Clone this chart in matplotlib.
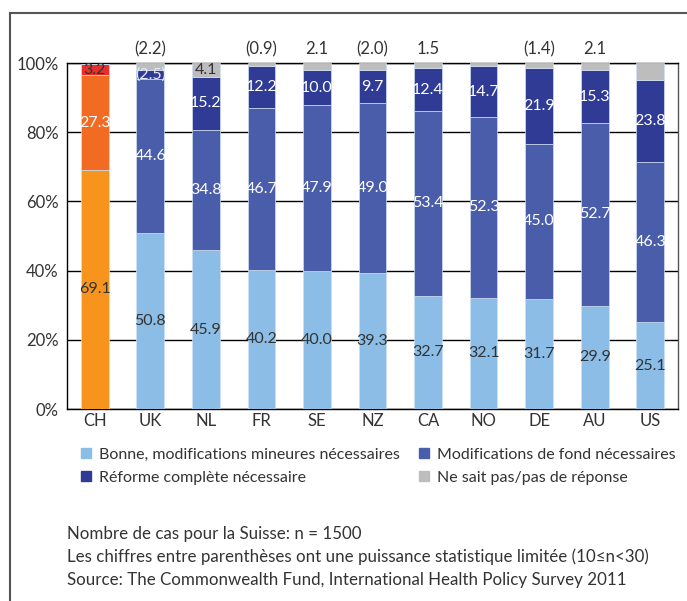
import matplotlib
matplotlib.use("Agg")
import matplotlib.pyplot as plt
import matplotlib.transforms as mtransforms
from matplotlib.lines import Line2D
import numpy as np

plt.rcParams['font.family'] = ['Lato', 'DejaVu Sans']

countries = ["CH", "UK", "NL", "FR", "SE", "NZ", "CA", "NO", "DE", "AU", "US"]
minor   = [69.1, 50.8, 45.9, 40.2, 40.0, 39.3, 32.7, 32.1, 31.7, 29.9, 25.1]
fond    = [27.3, 44.6, 34.8, 46.7, 47.9, 49.0, 53.4, 52.3, 45.0, 52.7, 46.3]
reforme = [3.2, 2.5, 15.2, 12.2, 10.0, 9.7, 12.4, 14.7, 21.9, 15.3, 23.8]
nsp     = [0.0, 2.2, 4.1, 0.9, 2.1, 2.0, 1.5, 0.9, 1.4, 2.1, 4.8]
# where the "don't know" value is written: above the bar, inside it, or not at all
nsp_label = [None, "above", "inside", "above", "above", "above", "above", None, "above", "above", None]
# values based on few cases are shown in parentheses
nsp_limited = [False, True, False, True, False, True, False, False, True, False, False]
reforme_limited = [False, True] + [False] * 9

series_names = ["Bonne, modifications mineures nécessaires",
                "Modifications de fond nécessaires",
                "Réforme complète nécessaire",
                "Ne sait pas/pas de réponse"]
yticks = [0, 20, 40, 60, 80, 100]
notes = ["Nombre de cas pour la Suisse: n = 1500",
         "Les chiffres entre parenthèses ont une puissance statistique limitée (10≤n<30)",
         "Source: The Commonwealth Fund, International Health Policy Survey 2011"]

c_light, c_mid, c_dark, c_grey = "#8bbde6", "#4a5daa", "#2f3b94", "#bdbdbd"
ch_colors = ["#f7941d", "#f26b23", "#e8302a"]
dark_txt = "#333333"

fig = plt.figure(figsize=(6.87, 6.01), dpi=100)
ax = fig.add_axes([67 / 687, 1 - 409 / 601, (678 - 67) / 687, (409 - 63) / 601])

x = np.arange(len(countries))
width = 0.5
layers = [minor, fond, reforme, nsp]
base_colors = [c_light, c_mid, c_dark, c_grey]
bottom = np.zeros(len(countries))
for li, vals in enumerate(layers):
    vals = np.array(vals)
    cols = [base_colors[li]] * len(countries)
    if li < 3:
        cols[0] = ch_colors[li]
    ax.bar(x, vals, width, bottom=bottom, color=cols, edgecolor="#cfe0f3",
           linewidth=0.5, zorder=3)
    for i, v in enumerate(vals):
        if v <= 0:
            continue
        mid = bottom[i] + v / 2
        if li == 0:
            ax.text(x[i], mid, f"{v:.1f}", ha="center", va="center", fontsize=11.5,
                    color=dark_txt, zorder=5)
        elif li == 1:
            ax.text(x[i], mid, f"{v:.1f}", ha="center", va="center", fontsize=11.5,
                    color="white", zorder=5)
        elif li == 2:
            s = f"({v:.1f})" if reforme_limited[i] else f"{v:.1f}"
            col = dark_txt if i == 0 else ("#e6e9f5" if reforme_limited[i] else "white")
            ax.text(x[i], mid, s, ha="center", va="center", fontsize=11.5,
                    color=col, zorder=5)
        else:
            s = f"({v:.1f})" if nsp_limited[i] else f"{v:.1f}"
            if nsp_label[i] == "inside":
                ax.text(x[i], mid, s, ha="center", va="center", fontsize=11.5,
                        color=dark_txt, zorder=5)
            elif nsp_label[i] == "above":
                ax.annotate(s, (x[i], 100), xytext=(0, 4), textcoords="offset points",
                            ha="center", va="bottom", fontsize=12, color=dark_txt,
                            annotation_clip=False)
    bottom += vals

ax.set_xlim(-0.5, len(countries) - 0.5)
ax.set_ylim(0, 100)
ax.set_yticks(yticks)
ax.set_yticklabels([f"{t}%" for t in yticks], fontsize=12, color=dark_txt)
ax.set_xticks(x)
ax.set_xticklabels(countries, fontsize=12, color=dark_txt)
shift = mtransforms.ScaledTranslation(-7 / 100, 0, fig.dpi_scale_trans)
for lab in ax.get_xticklabels():
    lab.set_transform(lab.get_transform() + shift)
ax.tick_params(axis="both", length=0, pad=3)
ax.tick_params(axis="y", pad=6)
ax.grid(axis="y", color="black", linewidth=1.0, zorder=0)
ax.set_axisbelow(True)
for sp in ["left", "top", "bottom"]:
    ax.spines[sp].set_color("black")
    ax.spines[sp].set_linewidth(1.0)
ax.spines["right"].set_color("#555555")
ax.spines["right"].set_linewidth(1.0)

handles = [Line2D([], [], marker="s", linestyle="none", markersize=7, color=c)
           for c in [c_light, c_dark, c_mid, c_grey]]
labels = [series_names[0], series_names[2], series_names[1], series_names[3]]
fig.legend(handles, labels, ncol=2, frameon=False, fontsize=11.5,
           loc="upper left", bbox_to_anchor=(64 / 687, 1 - 433 / 601),
           handletextpad=0.3, columnspacing=1.0, labelspacing=0.55,
           handlelength=1.0, labelcolor=dark_txt)

for k, line in enumerate(notes):
    fig.text(67 / 687, 1 - (534 + 23 * k) / 601, line, fontsize=12.2, color=dark_txt,
             va="center", ha="left")

# outer frame, open towards the right and bottom
fig.add_artist(Line2D([10 / 687, 1.0], [1 - 13 / 601, 1 - 13 / 601],
                      transform=fig.transFigure, color="#555555", linewidth=1.5))
fig.add_artist(Line2D([10 / 687, 10 / 687], [1 - 13 / 601, 0.0],
                      transform=fig.transFigure, color="#555555", linewidth=1.5))

fig.savefig("out.png", dpi=100)
